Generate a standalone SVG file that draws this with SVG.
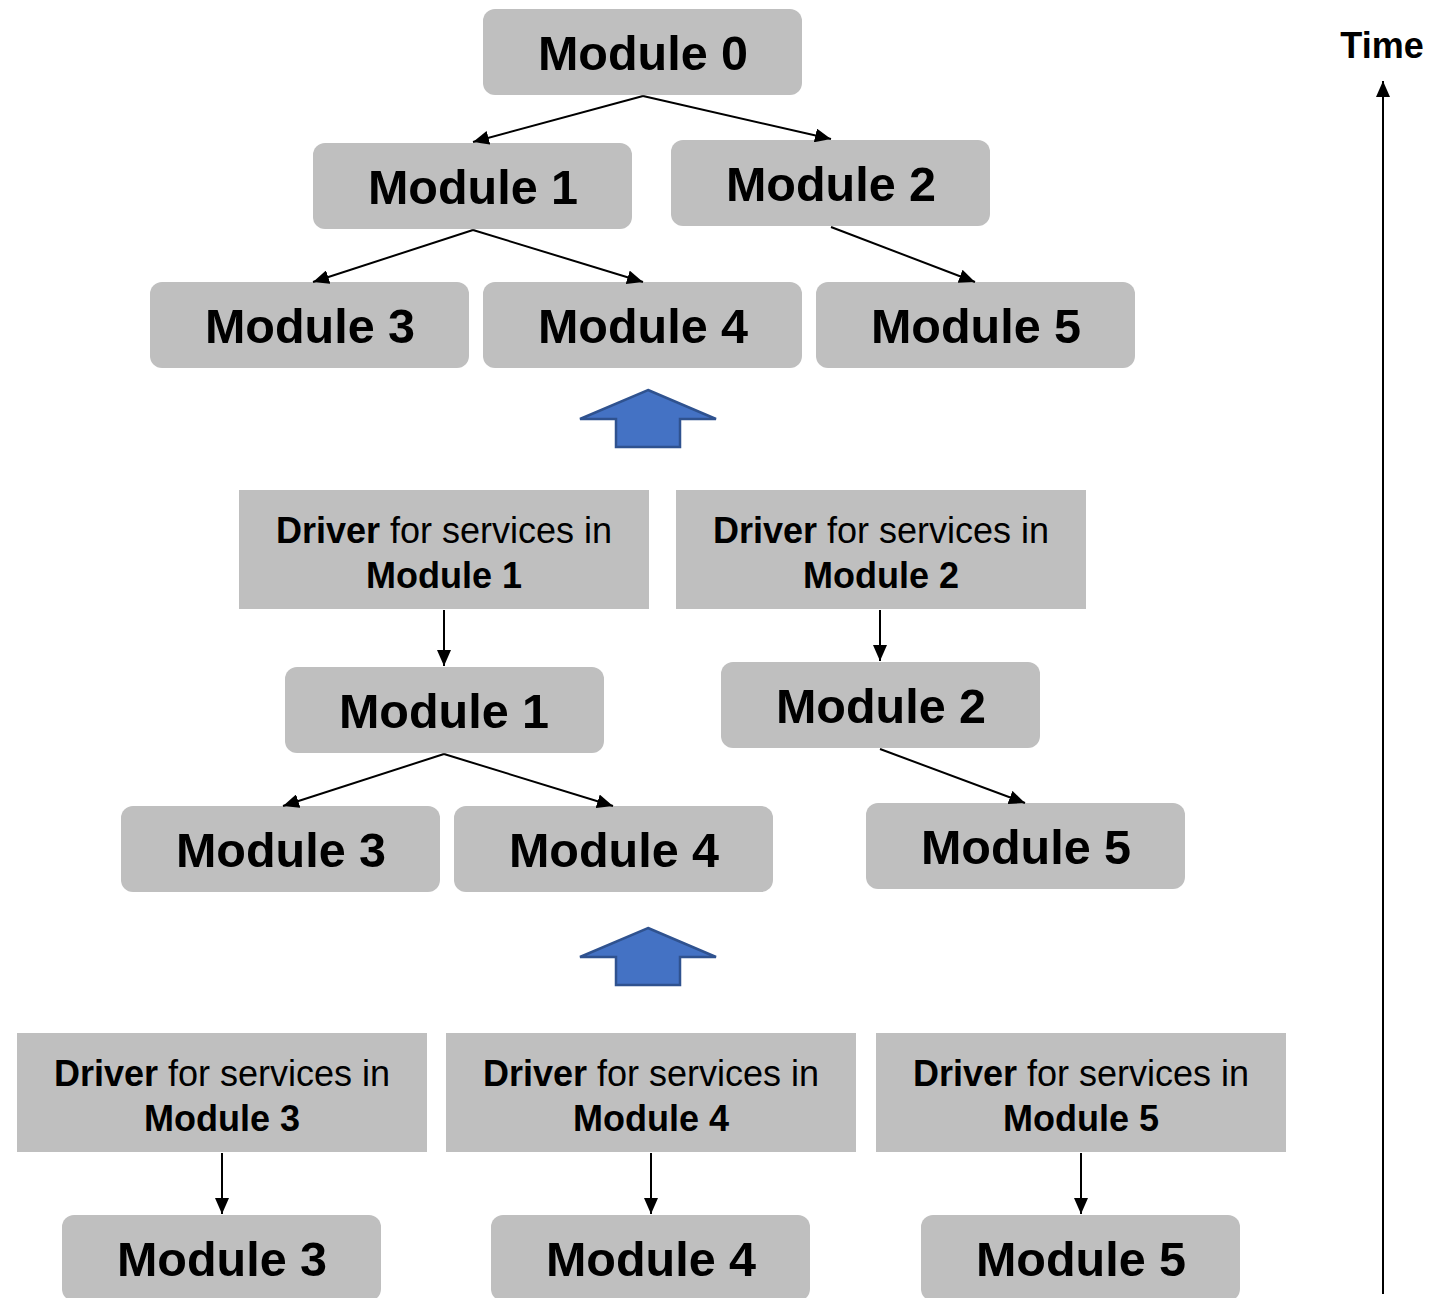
<svg xmlns="http://www.w3.org/2000/svg" width="1448" height="1298" viewBox="0 0 1448 1298">
<style>
.m rect{fill:#bfbfbf;}
.m text{font-family:"Liberation Sans",Arial,sans-serif;font-weight:bold;font-size:48.5px;fill:#000;text-anchor:middle;}
.d rect{fill:#bfbfbf;}
.d text{font-family:"Liberation Sans",Arial,sans-serif;font-size:36px;fill:#000;text-anchor:middle;}
.d .b{font-weight:bold;}
.c line{stroke:#000;stroke-width:2;marker-end:url(#ah);}
.big{fill:#4472c4;stroke:#2f528f;stroke-width:2.5;}
</style>
<defs>
<marker id="ah" markerUnits="userSpaceOnUse" markerWidth="16" markerHeight="14" refX="16" refY="7" orient="auto">
<path d="M0,0 L16,7 L0,14 z" fill="#000"/>
</marker>
</defs>
<rect width="1448" height="1298" fill="#fff"/>

<g id="top-m0" class="m"><rect x="483" y="9" width="319" height="86" rx="12"/><text x="643" y="70">Module 0</text></g>
<g id="top-m1" class="m"><rect x="313" y="143" width="319" height="86" rx="12"/><text x="473" y="204">Module 1</text></g>
<g id="top-m2" class="m"><rect x="671" y="140" width="319" height="86" rx="12"/><text x="831" y="201">Module 2</text></g>
<g id="top-m3" class="m"><rect x="150" y="282" width="319" height="86" rx="12"/><text x="310" y="343">Module 3</text></g>
<g id="top-m4" class="m"><rect x="483" y="282" width="319" height="86" rx="12"/><text x="643" y="343">Module 4</text></g>
<g id="top-m5" class="m"><rect x="816" y="282" width="319" height="86" rx="12"/><text x="976" y="343">Module 5</text></g>

<g id="up1"><polygon class="big" points="648,390 716,419 680,419 680,447 616,447 616,419 580,419"/></g>

<g id="mid-d1" class="d"><rect x="239" y="490" width="410" height="119"/><text x="444" y="543"><tspan class="b">Driver</tspan> for services in</text><text class="b" x="444" y="588">Module 1</text></g>
<g id="mid-d2" class="d"><rect x="676" y="490" width="410" height="119"/><text x="881" y="543"><tspan class="b">Driver</tspan> for services in</text><text class="b" x="881" y="588">Module 2</text></g>

<g id="mid-m1" class="m"><rect x="285" y="667" width="319" height="86" rx="12"/><text x="444" y="728">Module 1</text></g>
<g id="mid-m2" class="m"><rect x="721" y="662" width="319" height="86" rx="12"/><text x="881" y="723">Module 2</text></g>
<g id="mid-m3" class="m"><rect x="121" y="806" width="319" height="86" rx="12"/><text x="281" y="867">Module 3</text></g>
<g id="mid-m4" class="m"><rect x="454" y="806" width="319" height="86" rx="12"/><text x="614" y="867">Module 4</text></g>
<g id="mid-m5" class="m"><rect x="866" y="803" width="319" height="86" rx="12"/><text x="1026" y="864">Module 5</text></g>

<g id="up2"><polygon class="big" points="648,928 716,957 680,957 680,985 616,985 616,957 580,957"/></g>

<g id="bot-d3" class="d"><rect x="17" y="1033" width="410" height="119"/><text x="222" y="1086"><tspan class="b">Driver</tspan> for services in</text><text class="b" x="222" y="1131">Module 3</text></g>
<g id="bot-d4" class="d"><rect x="446" y="1033" width="410" height="119"/><text x="651" y="1086"><tspan class="b">Driver</tspan> for services in</text><text class="b" x="651" y="1131">Module 4</text></g>
<g id="bot-d5" class="d"><rect x="876" y="1033" width="410" height="119"/><text x="1081" y="1086"><tspan class="b">Driver</tspan> for services in</text><text class="b" x="1081" y="1131">Module 5</text></g>

<g id="bot-m3" class="m"><rect x="62" y="1215" width="319" height="86" rx="12"/><text x="222" y="1276">Module 3</text></g>
<g id="bot-m4" class="m"><rect x="491" y="1215" width="319" height="86" rx="12"/><text x="651" y="1276">Module 4</text></g>
<g id="bot-m5" class="m"><rect x="921" y="1215" width="319" height="86" rx="12"/><text x="1081" y="1276">Module 5</text></g>

<g id="time"><text x="1382" y="58" font-family="Liberation Sans,Arial,sans-serif" font-weight="bold" font-size="36" text-anchor="middle">Time</text></g>

<g id="connectors" class="c">
<line x1="643" y1="96" x2="473" y2="142"/>
<line x1="643" y1="96" x2="831" y2="139"/>
<line x1="473" y1="230" x2="313" y2="282"/>
<line x1="473" y1="230" x2="643" y2="282"/>
<line x1="831" y1="227" x2="975" y2="282"/>
<line x1="444" y1="610" x2="444" y2="666"/>
<line x1="880" y1="610" x2="880" y2="661"/>
<line x1="444" y1="754" x2="283" y2="806"/>
<line x1="444" y1="754" x2="613" y2="806"/>
<line x1="880" y1="749" x2="1025" y2="803"/>
<line x1="222" y1="1153" x2="222" y2="1214"/>
<line x1="651" y1="1153" x2="651" y2="1214"/>
<line x1="1081" y1="1153" x2="1081" y2="1214"/>
<line x1="1383" y1="1294" x2="1383" y2="81"/>
</g>
</svg>
